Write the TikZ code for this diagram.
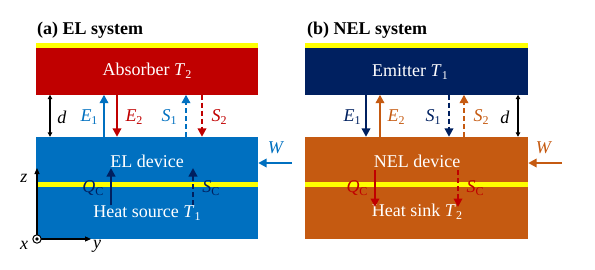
\documentclass[tikz,border=0pt]{standalone}
\usepackage{fontspec}
\setmainfont{Liberation Serif}
\usetikzlibrary{arrows.meta}
\definecolor{elred}{HTML}{C00000}
\definecolor{elblue}{HTML}{0070C0}
\definecolor{navy}{HTML}{002060}
\definecolor{nelorange}{HTML}{C55A11}
\definecolor{ystrip}{HTML}{FFFF00}
\newcommand{\lo}[1]{\raisebox{-0.35ex}{\fontsize{12}{12}\selectfont #1}}
\newcommand{\vi}[2]{\textit{#1}\lo{#2}}
\begin{document}
\begin{tikzpicture}[x=1pt,y=-1pt,
  box/.style={inner sep=0pt, minimum width=222pt, text=white, font=\fontsize{18}{18}\selectfont},
  lbl/.style={inner sep=0pt, font=\fontsize{18}{18}\selectfont},
  wtext/.style={inner sep=0pt, text=white, font=\fontsize{18}{18}\selectfont},
  flow/.style={line width=2.9pt, -{Triangle[length=8.5pt,width=8.5pt]}},
  dflow/.style={flow, dash pattern=on 5pt off 3pt},
  gap/.style={line width=1.1pt, {Triangle[length=4.5pt,width=4.5pt]}-{Triangle[length=4.5pt,width=4.5pt]}},
  axis/.style={line width=1.1pt, -{Triangle[length=6pt,width=5pt]}}]
\useasboundingbox (0,0) rectangle (595,269);
% ---------- (a) EL system ----------
\node[lbl, anchor=base west, font=\bfseries\fontsize{18}{18}\selectfont] (ta) at (37,34) {(a) EL system};
\node[box, fill=ystrip, minimum height=5pt] (ya) at (147,45) {};
\node[box, fill=elred, minimum height=47pt] (abs) at (147,71) {Absorber \vi{T}{2}};
\node[box, fill=elblue, minimum height=102pt] (eld) at (147,188) {};
\node[box, fill=ystrip, minimum height=4.5pt] (yla) at (147,184.5) {};
\node[wtext] (eltxt) at (147,161) {EL device};
\node[wtext] (hstxt) at (147,213) {Heat source \vi{T}{1}};
% gap arrows
\coordinate (ad) at (50,0);
\coordinate (ae1) at (104,0);
\coordinate (ae2) at (117,0);
\coordinate (as1) at (186,0);
\coordinate (as2) at (202,0);
\draw[gap] (abs.south -| ad) -- (eld.north -| ad);
\draw[flow, elblue] (eld.north -| ae1) -- (abs.south -| ae1);
\draw[flow, elred] (abs.south -| ae2) -- (eld.north -| ae2);
\draw[dflow, elblue] (eld.north -| as1) -- (abs.south -| as1);
\draw[dflow, elred] (abs.south -| as2) -- (eld.north -| as2);
\node[lbl] (lda) at (62,117) {\textit{d}};
\node[lbl, text=elblue] (le1a) at (89,117) {\vi{E}{1}};
\node[lbl, text=elred] (le2a) at (134,117) {\vi{E}{2}};
\node[lbl, text=elblue] (ls1a) at (169,117) {\vi{S}{1}};
\node[lbl, text=elred] (ls2a) at (219,117) {\vi{S}{2}};
% Qc, Sc
\coordinate (aqb) at (111,205);
\coordinate (aqt) at (111,168);
\coordinate (asb) at (193,205);
\coordinate (ast) at (193,168);
\draw[flow, navy, line width=2.4pt] (aqb) -- (aqt);
\draw[dflow, navy, line width=2.4pt] (asb) -- (ast);
\node[lbl, text=navy] (lqa) at (93,188) {\textit{Q}\lo{C}};
\node[lbl, text=navy] (lsca) at (211,188) {\textit{S}\lo{C}};
% W
\coordinate (wa0) at (292,163);
\draw[flow, elblue, line width=2.6pt] (wa0) -- (eld.east |- wa0);
\node[lbl, text=elblue] (lwa) at (276,148) {\textit{W}};
% axes
\coordinate (o) at (37,239);
\coordinate (zt) at (37,168);
\coordinate (yt) at (91,239);
\draw[axis] (o) -- (zt);
\draw[axis] (o) -- (yt);
\draw[line width=1pt, fill=white] (o) circle[radius=4.2pt];
\fill (o) circle[radius=1.8pt];
\node[lbl] (lz) at (24,178) {\textit{z}};
\node[lbl] (lx) at (24,245) {\textit{x}};
\node[lbl] (ly) at (97,246) {\textit{y}};
% ---------- (b) NEL system ----------
\node[lbl, anchor=base west, font=\bfseries\fontsize{18}{18}\selectfont] (tb) at (307,34) {(b) NEL system};
\node[box, fill=ystrip, minimum height=5pt, minimum width=223pt] (yb) at (416.5,45) {};
\node[box, fill=navy, minimum height=47pt, minimum width=223pt] (emi) at (416.5,71) {};
\node[wtext] (emtxt) at (410,72) {Emitter \vi{T}{1}};
\node[box, fill=nelorange, minimum height=102pt, minimum width=223pt] (neld) at (416.5,188) {};
\node[box, fill=ystrip, minimum height=4.5pt, minimum width=223pt] (ylb) at (416.5,184.5) {};
\node[wtext] (neltxt) at (417,161) {NEL device};
\node[wtext] (hktxt) at (417,212) {Heat sink \vi{T}{2}};
\coordinate (bd) at (518,0);
\coordinate (be1) at (366,0);
\coordinate (be2) at (380,0);
\coordinate (bs1) at (449,0);
\coordinate (bs2) at (464,0);
\draw[gap] (emi.south -| bd) -- (neld.north -| bd);
\draw[flow, navy] (emi.south -| be1) -- (neld.north -| be1);
\draw[flow, nelorange] (neld.north -| be2) -- (emi.south -| be2);
\draw[dflow, navy] (emi.south -| bs1) -- (neld.north -| bs1);
\draw[dflow, nelorange] (neld.north -| bs2) -- (emi.south -| bs2);
\node[lbl, text=navy] (le1b) at (352,117) {\vi{E}{1}};
\node[lbl, text=nelorange] (le2b) at (396,117) {\vi{E}{2}};
\node[lbl, text=navy] (ls1b) at (433,117) {\vi{S}{1}};
\node[lbl, text=nelorange] (ls2b) at (481,117) {\vi{S}{2}};
\node[lbl] (ldb) at (505,117) {\textit{d}};
\coordinate (bqt) at (375,170);
\coordinate (bqb) at (375,207);
\coordinate (bst) at (458,170);
\coordinate (bsb) at (458,207);
\draw[flow, elred, line width=2.4pt] (bqt) -- (bqb);
\draw[dflow, elred, line width=2.4pt] (bst) -- (bsb);
\node[lbl, text=elred] (lqb) at (357,188) {\textit{Q}\lo{C}};
\node[lbl, text=elred] (lscb) at (475,188) {\textit{S}\lo{C}};
\coordinate (wb0) at (562,163);
\draw[flow, nelorange, line width=2.6pt] (wb0) -- (neld.east |- wb0);
\node[lbl, text=nelorange] (lwb) at (544,148) {\textit{W}};
\end{tikzpicture}
\end{document}
